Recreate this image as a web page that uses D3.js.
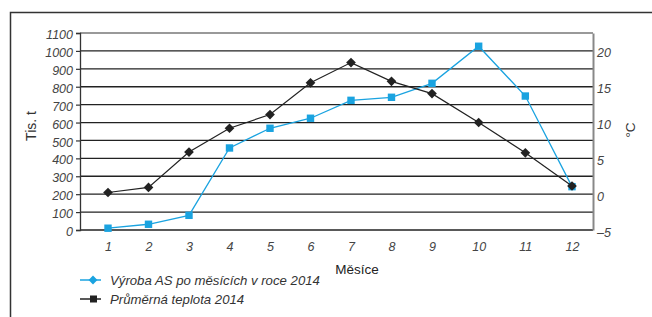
<!DOCTYPE html>
<html>
<head>
<meta charset="utf-8">
<script src="https://cdn.jsdelivr.net/npm/d3@7"></script>
<style>
body{margin:0;background:#fff;}
text{font-family:"Liberation Sans",Arial,sans-serif;}
</style>
</head>
<body>
<svg id="chart" width="652" height="317"></svg>
<script>
const months = [1,2,3,4,5,6,7,8,9,10,11,12];
const production = [10,32,82,458,568,624,724,741,819,1026,748,242];
const temperature = [0.2,0.9,5.8,9.1,11.0,15.4,18.2,15.6,13.9,9.9,5.7,1.1];
const leftTicks = [0,100,200,300,400,500,600,700,800,900,1000,1100];
const rightTicks = [-5,0,5,10,15,20];
const seriesNames = ["Výroba AS po měsících v roce 2014","Průměrná teplota 2014"];
const xTitle = "Měsíce", yLeftTitle = "Tis. t", yRightTitle = "°C";

const svg = d3.select("#chart");
const L = 80, R = 593, T = 33, B = 230;
const blue = "#1aa3e0", dark = "#222";

const x = d3.scaleLinear().domain([1,9,12]).range([108,432,572]);
const yL = d3.scaleLinear().domain([0,1100]).range([B,T]);
const yR = d3.scaleLinear().domain([-5,22.3]).range([B,T]);

// outer frame (open right/bottom)
svg.append("path").attr("d",`M10.5,317 V12.5 H652`).attr("fill","none").attr("stroke","#333").attr("stroke-width",1.5);

// gridlines
svg.append("g").selectAll("line").data(leftTicks).join("line")
  .attr("x1",L).attr("x2",R).attr("y1",d=>yL(d)).attr("y2",d=>yL(d))
  .attr("stroke",d=>d===1100?"#777":"#222").attr("stroke-width",1.3);

// left axis
const gL = svg.append("g").attr("transform",`translate(${L},0)`)
  .call(d3.axisLeft(yL).tickValues(leftTicks).tickSize(4).tickPadding(3).tickFormat(d3.format("d")));
gL.select(".domain").attr("stroke","#333").attr("stroke-width",1.3);
gL.selectAll(".tick line").attr("stroke","#333").attr("stroke-width",1.2);
gL.selectAll("text").attr("font-size",12.5).attr("font-style","italic").attr("fill","#444").attr("dy","0.45em");

// right axis
const gR = svg.append("g").attr("transform",`translate(${R},0)`)
  .call(d3.axisRight(yR).tickValues(rightTicks).tickSize(0).tickPadding(4).tickFormat(d=>d<0?"\u2013"+Math.abs(d):d));
gR.select(".domain").attr("stroke","#888").attr("stroke-width",2);
gR.selectAll("text").attr("font-size",12.5).attr("font-style","italic").attr("fill","#444").attr("dy","0.55em");

// x axis labels
const gX = svg.append("g").attr("transform",`translate(0,${B})`)
  .call(d3.axisBottom(x).tickValues(months).tickSize(0).tickPadding(12).tickFormat(d3.format("d")));
gX.select(".domain").remove();
gX.selectAll("text").attr("font-size",12.5).attr("font-style","italic").attr("fill","#444");

// titles
svg.append("text").attr("transform",`translate(36,126) rotate(-90)`).attr("text-anchor","middle")
  .attr("font-size",14).attr("fill","#333").text(yLeftTitle);
svg.append("text").attr("transform",`translate(635,130) rotate(-90)`).attr("text-anchor","middle")
  .attr("font-size",13.5).attr("fill","#333").text(yRightTitle);
svg.append("text").attr("x",357).attr("y",274).attr("text-anchor","middle")
  .attr("font-size",13.5).attr("font-weight","500").attr("fill","#222").text(xTitle);

// production line
svg.append("path").datum(months.map((m,i)=>[x(m),yL(production[i])]))
  .attr("d",d3.line()).attr("fill","none").attr("stroke",blue).attr("stroke-width",1.3);
svg.append("g").selectAll("rect").data(months).join("rect")
  .attr("x",(d,i)=>x(d)-3.7).attr("y",(d,i)=>yL(production[i])-3.7)
  .attr("width",7.4).attr("height",7.4).attr("fill",blue);

// temperature line
svg.append("path").datum(months.map((m,i)=>[x(m),yR(temperature[i])]))
  .attr("d",d3.line()).attr("fill","none").attr("stroke",dark).attr("stroke-width",1.2);
const diamond = d3.symbol().type(d3.symbolDiamond2).size(60);
svg.append("g").selectAll("path").data(months).join("path")
  .attr("transform",(d,i)=>`translate(${x(d)},${yR(temperature[i])})`)
  .attr("d",diamond).attr("fill",dark);

// legend
const lg = svg.append("g");
const ly = [280,299];
lg.append("line").attr("x1",80).attr("x2",101).attr("y1",ly[0]).attr("y2",ly[0]).attr("stroke",blue).attr("stroke-width",1.5);
lg.append("path").attr("transform",`translate(93,${ly[0]})`).attr("d",d3.symbol().type(d3.symbolDiamond2).size(50)).attr("fill",blue);
lg.append("line").attr("x1",80).attr("x2",101).attr("y1",ly[1]).attr("y2",ly[1]).attr("stroke",dark).attr("stroke-width",1.5);
lg.append("rect").attr("x",90).attr("y",ly[1]-3.5).attr("width",7).attr("height",7).attr("fill",dark);
lg.selectAll("text").data(seriesNames).join("text")
  .attr("x",110).attr("y",(d,i)=>ly[i]+4.5).attr("font-size",13.2).attr("font-style","italic").attr("fill","#333").text(d=>d);
</script>
</body>
</html>
